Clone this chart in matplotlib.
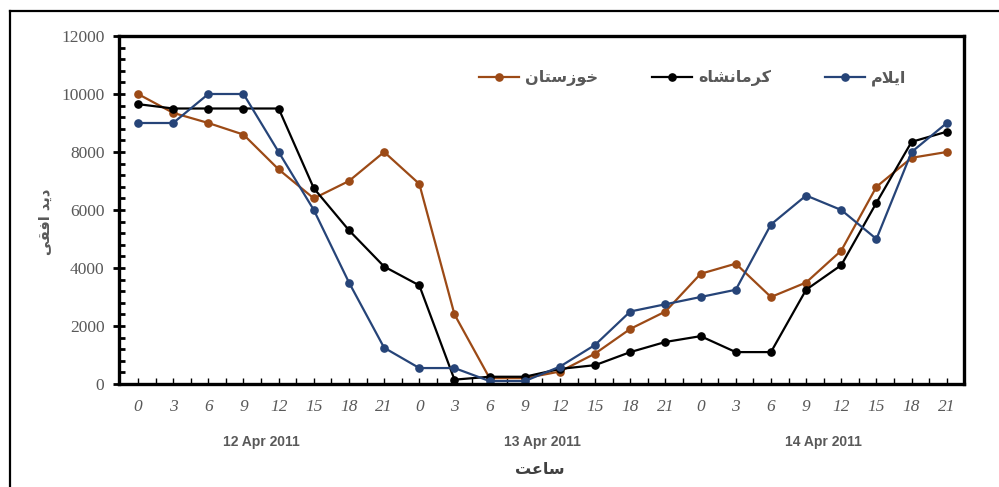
import matplotlib
matplotlib.use("Agg")
import matplotlib.pyplot as plt
from matplotlib.lines import Line2D
from matplotlib.ticker import MultipleLocator, FixedLocator

# ---------------- data ----------------
hours = ["0", "3", "6", "9", "12", "15", "18", "21"] * 3
dates = ["12 Apr 2011", "13 Apr 2011", "14 Apr 2011"]
series_names = ["خوزستان", "کرمانشاه", "ایلام"]
khuzestan = [10000, 9350, 9000, 8600, 7400, 6400, 7000, 8000,
             6900, 2400, 200, 200, 430, 1050, 1900, 2500,
             3800, 4150, 3000, 3500, 4600, 6800, 7800, 8000]
kermanshah = [9650, 9500, 9500, 9500, 9500, 6750, 5300, 4050,
              3400, 150, 250, 250, 520, 650, 1100, 1450,
              1650, 1100, 1100, 3250, 4100, 6250, 8350, 8700]
ilam = [9000, 9000, 10000, 10000, 8000, 6000, 3500, 1250,
        550, 550, 100, 100, 600, 1350, 2500, 2750,
        3000, 3250, 5500, 6500, 6000, 5000, 8000, 9000]
y_ticks = [0, 2000, 4000, 6000, 8000, 10000, 12000]
y_label = "دید افقی"
x_label = "ساعت"
colors = ["#9C4A16", "#000000", "#264478"]

# ------------- minimal Persian shaping -------------
# (isolated, final, initial, medial); None => letter does not join to the next one
FORMS = {
    "ا": ("\uFE8D", "\uFE8E", None, None),
    "د": ("\uFEA9", "\uFEAA", None, None),
    "ر": ("\uFEAD", "\uFEAE", None, None),
    "ز": ("\uFEAF", "\uFEB0", None, None),
    "و": ("\uFEED", "\uFEEE", None, None),
    "خ": ("\uFEA5", "\uFEA6", "\uFEA7", "\uFEA8"),
    "س": ("\uFEB1", "\uFEB2", "\uFEB3", "\uFEB4"),
    "ش": ("\uFEB5", "\uFEB6", "\uFEB7", "\uFEB8"),
    "ت": ("\uFE95", "\uFE96", "\uFE97", "\uFE98"),
    "ن": ("\uFEE5", "\uFEE6", "\uFEE7", "\uFEE8"),
    "م": ("\uFEE1", "\uFEE2", "\uFEE3", "\uFEE4"),
    "ه": ("\uFEE9", "\uFEEA", "\uFEEB", "\uFEEC"),
    "ل": ("\uFEDD", "\uFEDE", "\uFEDF", "\uFEE0"),
    "ف": ("\uFED1", "\uFED2", "\uFED3", "\uFED4"),
    "ق": ("\uFED5", "\uFED6", "\uFED7", "\uFED8"),
    "ع": ("\uFEC9", "\uFECA", "\uFECB", "\uFECC"),
    "ک": ("\uFB8E", "\uFB8F", "\uFB90", "\uFB91"),
    "ی": ("\uFBFC", "\uFBFD", "\uFBFE", "\uFBFF"),
}


def shape(text):
    out = []
    n = len(text)
    i = 0
    while i < n:
        c = text[i]
        if c not in FORMS:
            out.append(c)
            i += 1
            continue
        prev = text[i - 1] if i > 0 else None
        prev_join = prev in FORMS and FORMS[prev][2] is not None
        if c == "ل" and i + 1 < n and text[i + 1] == "ا":
            out.append("\uFEFC" if prev_join else "\uFEFB")
            i += 2
            continue
        nxt = text[i + 1] if i + 1 < n else None
        next_join = FORMS[c][2] is not None and nxt in FORMS
        iso, fin, ini, med = FORMS[c]
        if prev_join and next_join:
            out.append(med)
        elif prev_join:
            out.append(fin)
        elif next_join:
            out.append(ini)
        else:
            out.append(iso)
        i += 1
    return "".join(reversed(out))


PERSIAN = ["DejaVu Sans"]
GRAY = "#595959"

fig = plt.figure(figsize=(9.99, 4.87), dpi=100)
fig.patch.set_facecolor("white")
ax = fig.add_axes([119 / 999, 1 - 384 / 487, 845 / 999, 348 / 487])

x = list(range(len(hours)))
for vals, name, col in zip([khuzestan, kermanshah, ilam], series_names, colors):
    ax.plot(x, vals, color=col, lw=1.6, marker="o", ms=5.2, label=shape(name))

ax.set_xlim(-0.54, 23.49)
ax.set_ylim(0, 12000)

for s in ax.spines.values():
    s.set_linewidth(2.4)
    s.set_color("black")

ax.set_yticks(y_ticks)
ax.set_yticklabels([str(v) for v in y_ticks], family="Liberation Serif",
                   fontsize=12.5, color=GRAY)
ax.yaxis.set_minor_locator(MultipleLocator(400))
ax.tick_params(axis="y", which="major", direction="inout", length=9, width=2, pad=6)
ax.tick_params(axis="y", which="minor", direction="in", length=4, width=2)

ax.set_xticks(x)
ax.set_xticklabels(hours, family="Liberation Serif", style="italic",
                   fontsize=12.5, color=GRAY)
ax.xaxis.set_minor_locator(FixedLocator([i + 0.5 for i in range(23)]))
ax.tick_params(axis="x", which="both", direction="in", length=4, width=1, pad=11)

for k, d in enumerate(dates):
    ax.text(3.5 + 8 * k, -0.168, d, transform=ax.get_xaxis_transform(),
            ha="center", va="center", fontsize=10, fontweight="bold", color=GRAY,
            family=["Liberation Sans", "DejaVu Sans"])

fig.text(540 / 999, 1 - 469 / 487, shape(x_label), ha="center", va="center",
         fontsize=11.5, fontweight="bold", color="#404040", family=PERSIAN)
fig.text(45 / 999, 1 - 222 / 487, shape(y_label), ha="center", va="center",
         rotation=90, fontsize=10.5, fontweight="bold", color=GRAY, family=PERSIAN)

leg = ax.legend(loc="center", bbox_to_anchor=(0.679, 0.879), ncol=3, frameon=False,
                handlelength=2.5, columnspacing=3.4, handletextpad=0.35,
                prop={"family": PERSIAN, "weight": "bold", "size": 11.5})
for t in leg.get_texts():
    t.set_color(GRAY)

# outer frame (partial, as in the reference)
fig.add_artist(Line2D([10 / 999, 10 / 999], [0, 1 - 11 / 487], transform=fig.transFigure,
                      color="black", lw=1.6))
fig.add_artist(Line2D([10 / 999, 1], [1 - 11 / 487, 1 - 11 / 487], transform=fig.transFigure,
                      color="black", lw=1.6))

fig.savefig("out.png", dpi=100, facecolor="white")
